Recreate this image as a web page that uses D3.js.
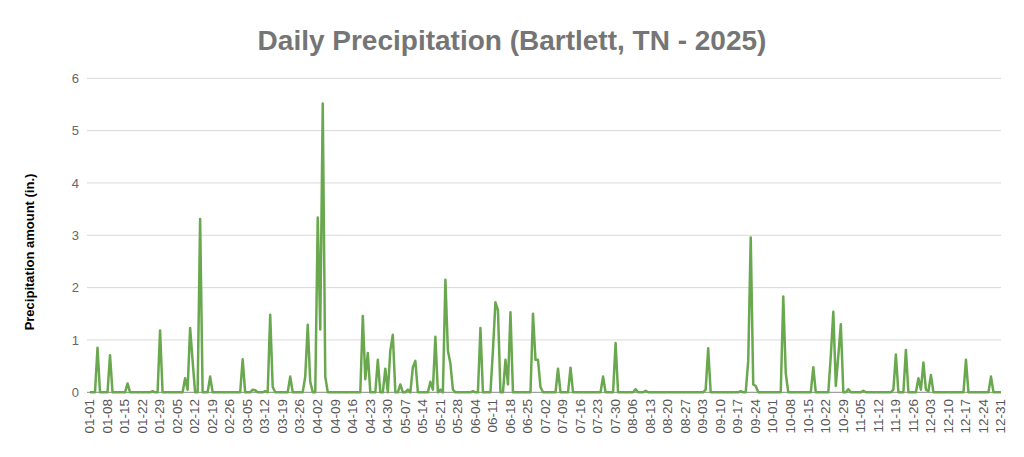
<!DOCTYPE html>
<html>
<head>
<meta charset="utf-8">
<script src="https://cdn.jsdelivr.net/npm/d3@7"></script>
<style>
  html, body { margin: 0; padding: 0; background: #fff; }
  svg { display: block; font-family: "Liberation Sans", Arial, sans-serif; }
</style>
</head>
<body>
<svg id="chart" width="1024" height="457"></svg>
<script>
// Daily precipitation (inches), Bartlett TN 2025, by month
const precipJan = [0,0,0,0.85,0,0,0,0,0.71,0,0,0,0,0,0,0.17,0,0,0,0,0,0,0,0,0,0.02,0,0,1.18,0,0];
const precipFeb = [0,0,0,0,0,0,0,0.27,0.05,1.23,0.6,0,0,3.31,0,0,0,0.3,0,0,0,0,0,0,0,0,0,0];
const precipMar = [0,0,0.63,0,0,0,0.05,0.04,0,0,0,0.02,0,1.48,0.1,0,0,0,0,0,0,0.3,0,0,0,0,0,0.3,1.29,0.2,0];
const precipApr = [0,3.34,1.2,5.52,0.3,0,0,0,0,0,0,0,0,0,0,0,0,0,0,1.46,0.25,0.75,0,0,0,0.62,0,0,0.45,0];
const precipMay = [0.8,1.1,0,0,0.15,0,0,0.05,0,0.48,0.6,0,0,0,0,0,0.2,0.05,1.06,0,0.05,0,2.15,0.8,0.55,0.05,0,0,0,0,0];
const precipJun = [0,0,0.02,0,0,1.23,0,0,0,0,0.8,1.72,1.57,0,0,0.62,0.15,1.53,0,0,0,0,0,0,0,0,1.5,0.62,0.62,0.1];
const precipJul = [0,0,0,0,0,0,0.45,0,0,0,0,0.47,0,0,0,0,0,0,0,0,0,0,0,0,0.3,0,0,0,0,0.94,0];
const precipAug = [0,0,0,0,0,0,0.06,0,0,0,0.03,0,0,0,0,0,0,0,0,0,0,0,0,0,0,0,0,0,0,0,0];
const precipSep = [0,0,0,0.05,0.84,0,0,0,0,0,0,0,0,0,0,0,0,0.02,0,0,0.6,2.96,0.15,0.12,0,0,0,0,0,0];
const precipOct = [0,0,0,0,1.83,0.36,0,0,0,0,0,0,0,0,0,0,0.48,0,0,0,0,0,0,0.7,1.54,0.12,0.7,1.3,0,0,0.06];
const precipNov = [0,0,0,0,0,0.03,0,0,0,0,0,0,0,0,0,0,0,0.05,0.72,0,0,0,0.81,0,0,0,0,0.27,0.05,0.57];
const precipDec = [0.05,0.02,0.33,0,0,0,0,0,0,0,0,0,0,0,0,0,0.62,0,0,0,0,0,0,0,0,0,0.3,0,0,0,0];

const xTickLabels = ["01-01","01-08","01-15","01-22","01-29","02-05","02-12","02-19","02-26","03-05","03-12","03-19","03-26","04-02","04-09","04-16","04-23","04-30","05-07","05-14","05-21","05-28","06-04","06-11","06-18","06-25","07-02","07-09","07-16","07-23","07-30","08-06","08-13","08-20","08-27","09-03","09-10","09-17","09-24","10-01","10-08","10-15","10-22","10-29","11-05","11-12","11-19","11-26","12-03","12-10","12-17","12-24","12-31"];
const yTickValues = [0,1,2,3,4,5,6];

const titleText = "Daily Precipitation (Bartlett, TN - 2025)";
const yAxisTitle = "Precipitation amount (in.)";

// Build categories (MM-DD) for each day of 2025
const months = [precipJan,precipFeb,precipMar,precipApr,precipMay,precipJun,precipJul,precipAug,precipSep,precipOct,precipNov,precipDec];
const fmt = d3.utcFormat("%m-%d");
const data = [];
months.forEach((arr, m) => {
  arr.forEach((v, d) => {
    data.push({ label: fmt(new Date(Date.UTC(2025, m, d + 1))), value: v });
  });
});

const svg = d3.select("#chart");
const plotLeft = 87, plotRight = 1001, plotTop = 78.3, plotBottom = 392.3;

const x = d3.scalePoint().domain(data.map(d => d.label)).range([90, 1001]).padding(0);
const y = d3.scaleLinear().domain([0, 6]).range([plotBottom, plotTop]);

// Title
svg.append("text")
  .attr("x", 512).attr("y", 50)
  .attr("text-anchor", "middle")
  .attr("font-size", 28).attr("font-weight", "bold")
  .attr("fill", "#757575")
  .text(titleText);

// Gridlines
svg.append("g").selectAll("line")
  .data(yTickValues.filter(v => v > 0))
  .join("line")
  .attr("x1", plotLeft).attr("x2", plotRight)
  .attr("y1", d => y(d)).attr("y2", d => y(d))
  .attr("stroke", "#d9d9d9").attr("stroke-width", 1);

// Y axis labels
const yAxis = d3.axisLeft(y).tickValues(yTickValues).tickSize(0).tickPadding(0).tickFormat(d3.format("d"));
const yg = svg.append("g").attr("transform", `translate(${79},0)`).call(yAxis);
yg.select(".domain").remove();
yg.selectAll("text").attr("font-size", 13).attr("fill", "#666").attr("font-family", "Liberation Sans, Arial, sans-serif");

// Zero baseline
svg.append("line")
  .attr("x1", plotLeft).attr("x2", plotRight)
  .attr("y1", y(0)).attr("y2", y(0))
  .attr("stroke", "#888").attr("stroke-width", 1);

// X axis labels (rotated)
const xAxis = d3.axisBottom(x).tickValues(xTickLabels).tickSize(0).tickPadding(0);
const xg = svg.append("g").attr("transform", `translate(-1,${399})`).call(xAxis);
xg.select(".domain").remove();
xg.selectAll("text")
  .attr("font-size", 13.5).attr("fill", "#555")
  .attr("font-family", "Liberation Sans, Arial, sans-serif")
  .attr("text-anchor", "end")
  .attr("transform", "rotate(-90)")
  .attr("x", 0).attr("y", 0).attr("dy", "0.35em");

// Y axis title
svg.append("text")
  .attr("transform", `translate(34,${252}) rotate(-90)`)
  .attr("text-anchor", "middle")
  .attr("font-size", 13).attr("font-weight", "bold")
  .attr("fill", "#000")
  .text(yAxisTitle);

// Line
const line = d3.line().x(d => x(d.label)).y(d => y(d.value));
svg.append("path")
  .datum(data)
  .attr("d", line)
  .attr("fill", "none")
  .attr("stroke", "#6aa84f")
  .attr("stroke-width", 2.5)
  .attr("stroke-linejoin", "round");
</script>
</body>
</html>
